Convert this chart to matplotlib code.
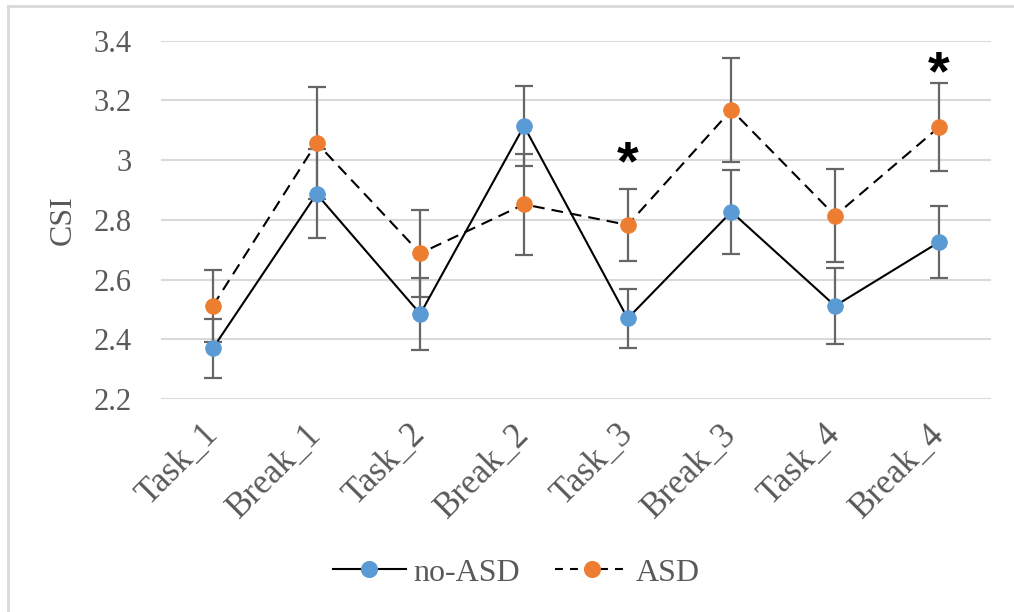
import matplotlib
matplotlib.use("Agg")
import matplotlib.pyplot as plt
from matplotlib.lines import Line2D

# Phases of the session and mean CSI per group
phases = ["Task_1", "Break_1", "Task_2", "Break_2", "Task_3", "Break_3", "Task_4", "Break_4"]
no_asd = [2.37, 2.887, 2.485, 3.114, 2.470, 2.827, 2.512, 2.725]
no_asd_err = [0.098, 0.149, 0.120, 0.135, 0.100, 0.140, 0.128, 0.120]
asd = [2.512, 3.058, 2.688, 2.852, 2.783, 3.168, 2.814, 3.110]
asd_err = [0.120, 0.188, 0.145, 0.170, 0.122, 0.175, 0.155, 0.148]

# Significant group differences (asterisk centre heights)
sig_phases = ["Task_3", "Break_4"]
sig_y = [3.028, 3.330]

yticks = [2.2, 2.4, 2.6, 2.8, 3.0, 3.2, 3.4]
ytick_labels = ["2.2", "2.4", "2.6", "2.8", "3", "3.2", "3.4"]

BLUE = "#5b9bd5"
ORANGE = "#ed7d31"
GRID = "#d9d9d9"
TEXT = "#595959"
ERR = "#666666"
SERIF = ["Liberation Serif", "DejaVu Serif"]

fig = plt.figure(figsize=(10.14, 6.12), dpi=100)
ax = fig.add_axes([0.1588, 0.348, 0.8182, 0.5855])

x = list(range(len(phases)))

# error bars underneath the lines and markers
ax.errorbar(x, no_asd, yerr=no_asd_err, fmt="none", ecolor=ERR, elinewidth=1.6,
            capsize=6.5, capthick=1.6, zorder=2)
ax.errorbar(x, asd, yerr=asd_err, fmt="none", ecolor=ERR, elinewidth=1.6,
            capsize=6.5, capthick=1.6, zorder=2)

ax.plot(x, no_asd, color="black", lw=1.5, ls="-", zorder=3)
ax.plot(x, asd, color="black", lw=1.5, ls=(0, (5.6, 3.4)), zorder=3)
ax.plot(x, no_asd, ls="none", marker="o", ms=11.3, mfc=BLUE, mec=BLUE, mew=0.6, zorder=4)
ax.plot(x, asd, ls="none", marker="o", ms=11.3, mfc=ORANGE, mec=ORANGE, mew=0.6, zorder=5)

STAR_SIZE = 40
for p, yv in zip(sig_phases, sig_y):
    # shift the baseline so the raised asterisk glyph is centred on yv
    ax.annotate("*", xy=(phases.index(p), yv), xytext=(0, -0.5 * STAR_SIZE),
                textcoords="offset points", ha="center", va="baseline",
                fontsize=STAR_SIZE, fontweight="bold",
                family=["Liberation Sans", "DejaVu Sans"], color="black", zorder=6)

ax.set_xlim(-0.5, len(phases) - 0.5)
ax.set_ylim(2.2, 3.4)
ax.set_yticks(yticks)
ax.set_yticklabels(ytick_labels, family=SERIF, fontsize=22, color=TEXT)
ax.set_xticks(x)
ax.set_xticklabels(phases, family=SERIF, fontsize=25, color=TEXT,
                   rotation=45, ha="right", va="center", rotation_mode="anchor")
ax.tick_params(axis="both", length=0)
ax.tick_params(axis="y", pad=21)
ax.tick_params(axis="x", pad=22)
ax.grid(axis="y", color=GRID, lw=1.5)
ax.set_axisbelow(True)
for s in ax.spines.values():
    s.set_visible(False)

fig.text(0.062, 0.64, "CSI", rotation=90, ha="center", va="center",
         family=SERIF, fontsize=23, color=TEXT)

handles = [
    Line2D([], [], color="black", lw=1.5, ls="-", marker="o", ms=11.3, mfc=BLUE, mec=BLUE),
    Line2D([], [], color="black", lw=1.5, ls=(0, (3.8, 3.4)), marker="o", ms=11.3, mfc=ORANGE, mec=ORANGE),
]
fig.legend(handles, ["no-ASD", "ASD"], loc="center", bbox_to_anchor=(0.509, 0.064),
           ncol=2, frameon=False, handlelength=2.3, handletextpad=0.22, columnspacing=1.1,
           prop={"family": SERIF, "size": 23}, labelcolor=TEXT)

# chart area outline
fig.add_artist(Line2D([0.0079, 0.0079], [0, 0.9902], transform=fig.transFigure, color=GRID, lw=2))
fig.add_artist(Line2D([0.0079, 1.0], [0.9902, 0.9902], transform=fig.transFigure, color=GRID, lw=2))

fig.savefig("out.png", dpi=100)
